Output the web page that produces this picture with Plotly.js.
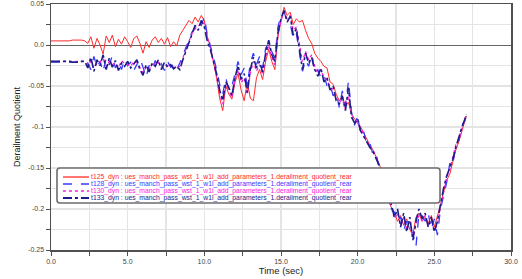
<!DOCTYPE html>
<html>
<head>
<meta charset="utf-8">
<script src="https://cdn.plot.ly/plotly-3.0.1.min.js"></script>
<style>html,body{margin:0;padding:0;background:#fff;}#chart{width:522px;height:279px;}</style>
</head>
<body>
<div id="chart"></div>
<script>
var time = [0.0,0.2,0.4,0.6,0.8,1.0,1.2,1.4,1.6,1.8,2.0,2.2,
2.4,2.6,2.8,3.0,3.2,3.4,3.6,3.8,4.0,4.2,
4.4,4.6,4.8,5.0,5.2,5.4,5.6,5.8,6.0,6.2,
6.4,6.6,6.8,7.0,7.2,7.4,7.6,7.8,8.0,8.2,
8.4,8.6,8.8,9.0,9.2,9.4,9.6,9.8,10.0,10.2,
10.4,10.6,10.8,11.0,11.2,11.4,11.6,11.8,12.0,12.2,
12.4,12.6,12.8,13.0,13.2,13.4,13.6,13.8,14.0,14.2,
14.4,14.6,14.8,15.0,15.2,15.4,15.6,15.8,16.0,16.2,
16.4,16.6,16.8,17.0,17.2,17.4,17.6,17.8,18.0,18.2,
18.4,18.6,18.8,19.0,19.2,19.4,19.6,19.8,20.0,20.2,
20.4,20.6,20.8,21.0,21.2,21.4,21.6,21.8,22.0,22.2,
22.4,22.6,22.8,23.0,23.2,23.4,23.6,23.8,24.0,24.2,
24.4,24.6,24.8,25.0,25.2,25.4,25.6,25.8,26.0,26.2,
26.4,26.6,26.8,27.0,27.1];

var t125 = [0.005,0.005,0.005,0.005,0.005,0.005,0.005,0.006,0.006,0.006,0.006,0.005,
0.002,0.010,-0.004,0.008,0.000,-0.011,0.011,0.003,0.012,-0.002,
0.007,0.001,0.010,0.004,-0.003,0.008,0.011,0.002,-0.010,0.004,
-0.003,0.006,0.010,0.003,0.008,0.001,0.009,-0.002,0.004,-0.001,
0.012,0.018,0.024,0.030,0.026,0.034,0.028,0.036,0.030,0.010,
-0.002,-0.020,-0.040,-0.065,-0.080,-0.050,-0.060,-0.066,-0.045,-0.035,
-0.055,-0.068,-0.045,-0.065,-0.068,-0.040,-0.030,-0.042,-0.020,-0.005,
-0.020,-0.030,0.010,0.030,0.046,0.036,0.040,0.025,0.032,0.028,
0.030,0.018,0.008,0.002,-0.010,-0.016,-0.020,-0.026,-0.028,-0.045,
-0.048,-0.060,-0.068,-0.062,-0.075,-0.070,-0.085,-0.090,-0.096,-0.100,
-0.108,-0.115,-0.122,-0.128,-0.136,-0.145,-0.155,-0.175,-0.190,-0.198,
-0.205,-0.215,-0.208,-0.220,-0.212,-0.225,-0.232,-0.210,-0.205,-0.215,
-0.210,-0.218,-0.208,-0.222,-0.210,-0.195,-0.180,-0.165,-0.158,-0.142,
-0.128,-0.118,-0.104,-0.092,-0.087];

var t128 = [-0.021,-0.021,-0.021,-0.021,-0.021,-0.021,-0.021,-0.021,-0.021,-0.021,-0.021,-0.021,
-0.022,-0.030,-0.014,-0.027,-0.020,-0.033,-0.015,-0.024,-0.013,-0.028,
-0.020,-0.030,-0.017,-0.025,-0.021,-0.031,-0.024,-0.016,-0.027,-0.039,
-0.025,-0.030,-0.019,-0.028,-0.023,-0.031,-0.020,-0.027,-0.023,-0.030,
-0.022,-0.012,-0.004,0.008,0.016,0.020,0.028,0.024,0.034,0.012,
0.000,-0.015,-0.030,-0.048,-0.060,-0.040,-0.055,-0.050,-0.035,-0.020,
-0.036,-0.028,-0.050,-0.022,-0.010,-0.024,-0.014,-0.028,-0.004,0.002,
-0.008,-0.016,0.022,0.036,0.040,0.030,0.026,0.008,0.014,-0.012,
-0.032,-0.018,-0.026,-0.012,-0.034,-0.030,-0.040,-0.036,-0.050,-0.048,
-0.062,-0.058,-0.076,-0.056,-0.074,-0.044,-0.082,-0.098,-0.086,-0.110,
-0.106,-0.122,-0.120,-0.134,-0.132,-0.150,-0.152,-0.170,-0.182,-0.200,
-0.204,-0.215,-0.210,-0.226,-0.215,-0.222,-0.230,-0.246,-0.205,-0.208,
-0.215,-0.205,-0.225,-0.212,-0.232,-0.200,-0.185,-0.168,-0.145,-0.148,
-0.120,-0.116,-0.098,-0.092,-0.082];

var t130 = [-0.020,-0.020,-0.020,-0.020,-0.020,-0.020,-0.020,-0.020,-0.020,-0.020,-0.020,-0.020,
-0.025,-0.020,-0.028,-0.022,-0.021,-0.016,-0.026,-0.020,-0.024,-0.022,
-0.028,-0.019,-0.023,-0.024,-0.026,-0.020,-0.021,-0.027,-0.034,-0.027,
-0.030,-0.024,-0.022,-0.021,-0.027,-0.024,-0.025,-0.026,-0.027,-0.028,
-0.026,-0.015,-0.005,0.005,0.014,0.020,0.022,0.028,0.026,0.008,
-0.005,-0.022,-0.038,-0.060,-0.072,-0.048,-0.056,-0.064,-0.042,-0.030,
-0.046,-0.040,-0.060,-0.034,-0.020,-0.032,-0.024,-0.036,-0.014,0.000,
-0.015,-0.024,0.012,0.030,0.040,0.032,0.036,0.018,0.022,0.002,
-0.020,-0.008,-0.018,-0.012,-0.026,-0.034,-0.030,-0.040,-0.042,-0.052,
-0.054,-0.064,-0.070,-0.066,-0.078,-0.062,-0.084,-0.092,-0.094,-0.102,
-0.110,-0.116,-0.124,-0.128,-0.136,-0.146,-0.156,-0.172,-0.186,-0.198,
-0.212,-0.205,-0.220,-0.210,-0.224,-0.214,-0.234,-0.220,-0.208,-0.214,
-0.208,-0.220,-0.214,-0.226,-0.218,-0.198,-0.178,-0.162,-0.152,-0.138,
-0.122,-0.114,-0.102,-0.090,-0.084];

var t133 = [-0.020,-0.020,-0.020,-0.020,-0.020,-0.020,-0.020,-0.021,-0.021,-0.021,-0.020,-0.020,
-0.028,-0.015,-0.032,-0.018,-0.025,-0.012,-0.030,-0.016,-0.027,-0.019,
-0.031,-0.022,-0.026,-0.020,-0.028,-0.023,-0.018,-0.030,-0.037,-0.024,
-0.033,-0.022,-0.026,-0.018,-0.030,-0.021,-0.027,-0.024,-0.029,-0.026,
-0.030,-0.018,-0.008,0.002,0.012,0.024,0.018,0.030,0.022,0.004,
-0.006,-0.020,-0.035,-0.055,-0.068,-0.045,-0.052,-0.062,-0.040,-0.025,
-0.042,-0.035,-0.058,-0.030,-0.015,-0.028,-0.020,-0.033,-0.010,0.006,
-0.012,-0.020,0.015,0.032,0.042,0.028,0.035,0.012,0.020,-0.005,
-0.030,-0.010,-0.022,-0.015,-0.030,-0.038,-0.028,-0.045,-0.040,-0.055,
-0.050,-0.068,-0.072,-0.062,-0.080,-0.052,-0.088,-0.095,-0.090,-0.105,
-0.112,-0.118,-0.125,-0.130,-0.138,-0.148,-0.155,-0.168,-0.178,-0.195,
-0.210,-0.200,-0.222,-0.205,-0.228,-0.210,-0.238,-0.215,-0.200,-0.212,
-0.205,-0.222,-0.210,-0.228,-0.215,-0.195,-0.175,-0.160,-0.150,-0.140,
-0.125,-0.112,-0.100,-0.090,-0.085];

var seriesNames = [
  "t125_dyn : ues_manch_pass_wst_1_w1l_add_parameters_1.derailment_quotient_rear",
  "t128_dyn : ues_manch_pass_wst_1_w1l_add_parameters_1.derailment_quotient_rear",
  "t130_dyn : ues_manch_pass_wst_1_w1l_add_parameters_1.derailment_quotient_rear",
  "t133_dyn : ues_manch_pass_wst_1_w1l_add_parameters_1.derailment_quotient_rear"
];
var seriesColors = ["#ff2a2a", "#3a3aff", "#ff1ad9", "#1c1c8a"];
var seriesDash = ["solid", "dash", "dot", "dashdot"];
var seriesWidth = [1.0, 1.3, 1.3, 1.6];

var xTickVals = [0,2.5,5,7.5,10,12.5,15,17.5,20,22.5,25,27.5,30];
var xTickText = ["0.0","","5.0","","10.0","","15.0","","20.0","","25.0","","30.0"];
var yTickVals = [0.05,0.025,0,-0.025,-0.05,-0.075,-0.1,-0.125,-0.15,-0.175,-0.2,-0.225,-0.25];
var yTickText = ["0.05","","0.0","","-0.05","","-0.1","","-0.15","","-0.2","","-0.25"];

var values = [t125, t128, t130, t133];
var traces = values.map(function(v, i){
  return {x: time, y: v, type: "scatter", mode: "lines", name: seriesNames[i],
    line: {color: seriesColors[i], dash: seriesDash[i], width: seriesWidth[i]}, showlegend: false};
});

// custom legend (box, line samples, text)
var lx0 = 0.013, lx1 = 0.8457, ly1 = 0.3333, ly0 = 0.191;
var rx = 0.0065, ry = 0.0122;
var boxPath = "M " + (lx0+rx) + "," + ly1 + " L " + (lx1-rx) + "," + ly1 +
  " Q " + lx1 + "," + ly1 + " " + lx1 + "," + (ly1-ry) +
  " L " + lx1 + "," + (ly0+ry) + " Q " + lx1 + "," + ly0 + " " + (lx1-rx) + "," + ly0 +
  " L " + (lx0+rx) + "," + ly0 + " Q " + lx0 + "," + ly0 + " " + lx0 + "," + (ly0+ry) +
  " L " + lx0 + "," + (ly1-ry) + " Q " + lx0 + "," + ly1 + " " + (lx0+rx) + "," + ly1 + " Z";
var shapes = [{type: "path", path: boxPath, xref: "paper", yref: "paper", layer: "above",
  fillcolor: "#ffffff", line: {color: "#6e6e6e", width: 1.6}}];
var rowY = [0.2967, 0.2683, 0.2398, 0.2114];
var annotations = [];
for (var i = 0; i < 4; i++) {
  shapes.push({type: "line", xref: "paper", yref: "paper", layer: "above",
    x0: 0.026, x1: 0.0826, y0: rowY[i], y1: rowY[i],
    line: {color: seriesColors[i], dash: seriesDash[i], width: seriesWidth[i] + 0.3}});
  annotations.push({xref: "paper", yref: "paper", x: 0.0826, y: rowY[i], xanchor: "left", yanchor: "middle",
    text: seriesNames[i], showarrow: false, font: {family: "Liberation Sans, Arial, sans-serif", size: 6.8, color: seriesColors[i]}});
}

var layout = {
  width: 522, height: 279,
  margin: {l: 51, r: 11, t: 4, b: 29},
  paper_bgcolor: "#ffffff", plot_bgcolor: "#ffffff",
  font: {family: "Liberation Sans, Arial, sans-serif", color: "#333333", size: 7},
  showlegend: false,
  xaxis: {range: [0, 30], tickmode: "array", tickvals: xTickVals, ticktext: xTickText,
    showgrid: true, gridcolor: "#e4e4e4", gridwidth: 1.5, zeroline: false,
    showline: true, linecolor: "#505050", linewidth: 1.5, mirror: true,
    ticks: "outside", ticklen: 4, tickcolor: "#505050", tickfont: {size: 7, color: "#444444"},
    title: {text: "Time (sec)", font: {size: 9.5, color: "#222222"}, standoff: 2}},
  yaxis: {range: [-0.25, 0.05], tickmode: "array", tickvals: yTickVals, ticktext: yTickText,
    showgrid: true, gridcolor: "#e4e4e4", gridwidth: 1.5,
    zeroline: true, zerolinecolor: "#666666", zerolinewidth: 1,
    showline: true, linecolor: "#505050", linewidth: 1.5, mirror: true,
    ticks: "outside", ticklen: 4, tickcolor: "#505050", tickfont: {size: 7, color: "#444444"},
    title: {text: "Derailment Quotient", font: {size: 9, color: "#222222"}, standoff: 6}},
  shapes: shapes,
  annotations: annotations
};

Plotly.newPlot("chart", traces, layout, {displayModeBar: false, staticPlot: true});
</script>
</body>
</html>
